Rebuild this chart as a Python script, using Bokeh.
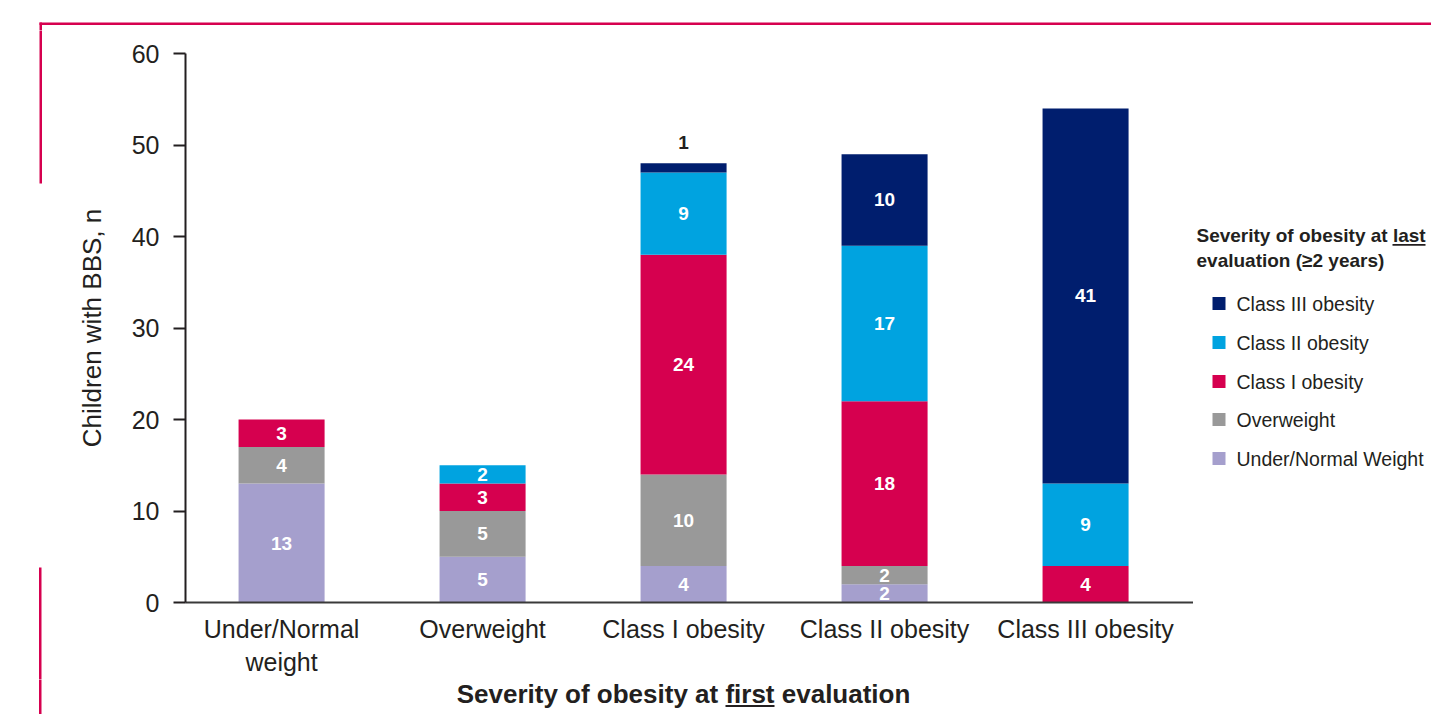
from bokeh.plotting import figure
from bokeh.layouts import column, row
from bokeh.models import ColumnDataSource, Range1d, FixedTicker
from bokeh.core.properties import value
from bokeh.embed import file_html
from bokeh.resources import INLINE

# ---------------- data ----------------
categories = ["Under/Normal\nweight", "Overweight", "Class I obesity",
              "Class II obesity", "Class III obesity"]
groups = ["Under/Normal Weight", "Overweight", "Class I obesity",
          "Class II obesity", "Class III obesity"]
under_normal = [13, 5, 4, 2, 0]
overweight = [4, 5, 10, 2, 0]
class_i = [3, 3, 24, 18, 4]
class_ii = [0, 2, 9, 17, 9]
class_iii = [0, 0, 1, 10, 41]
colors = ["#a59fcd", "#999999", "#d6004f", "#00a3e0", "#001e6e"]
y_ticks = [0, 10, 20, 30, 40, 50, 60]
x_title = "Severity of obesity at first evaluation"
legend_title = ["Severity of obesity at last", "evaluation (\u22652 years)"]

series = [under_normal, overweight, class_i, class_ii, class_iii]
keys = ["g0", "g1", "g2", "g3", "g4"]

FONT = "Liberation Sans"
TXT = "#231f20"
PINK = "#d6004f"

# page geometry (canvas pixels)
W, H = 1431, 714
TOP_H = 30            # top strip
BOT_Y = 679           # start of bottom strip
LEFT_W = 45           # left strip
FL, FR, FT, FB = 185, 1193, 53, 602   # main frame
MAIN_H = BOT_Y - TOP_H


def blank(x0, x1, y0, y1):
    f = figure(width=x1 - x0, height=y1 - y0, x_range=Range1d(x0, x1),
               y_range=Range1d(y1, y0), output_backend="svg", toolbar_location=None,
               x_axis_location=None, y_axis_location=None, min_border=0,
               frame_align=False)
    f.outline_line_color = None
    f.grid.visible = False
    f.background_fill_color = "white"
    f.border_fill_color = "white"
    return f


# ---------------- main chart ----------------
p = figure(width=FR - LEFT_W, height=MAIN_H, x_range=Range1d(-0.478, 4.537),
           y_range=Range1d(0, 60), output_backend="svg", toolbar_location=None,
           min_border_left=FL - LEFT_W, min_border_right=0,
           min_border_top=FT - TOP_H, min_border_bottom=BOT_Y - FB,
           frame_align=False)
p.outline_line_color = None
p.xgrid.visible = False
p.ygrid.visible = False
p.background_fill_color = "white"
p.border_fill_color = "white"

xs = list(range(len(categories)))
data = {"x": xs}
for k, s in zip(keys, series):
    data[k] = s
src = ColumnDataSource(data)
p.vbar_stack(keys, x="x", width=0.428, fill_color=colors, line_color=None, source=src)

# value labels
lx, ly, lt, lc = [], [], [], []
for i in xs:
    base = 0
    total = sum(s[i] for s in series)
    for s in series:
        v = s[i]
        if v > 0:
            lx.append(i)
            lt.append(str(v))
            if v < 2:
                ly.append(total + 2.3)
                lc.append(TXT)
            else:
                ly.append(base + v / 2)
                lc.append("white")
        base += v
p.text(x=lx, y=ly, text=lt, text_color=lc, text_font=value(FONT),
       text_font_style="bold", text_font_size="19px", text_align="center",
       text_baseline="middle")

xa = p.xaxis[0]
xa.ticker = FixedTicker(ticks=xs)
xa.major_label_overrides = {i: c for i, c in enumerate(categories)}
xa.major_tick_line_color = None
xa.minor_tick_line_color = None
xa.axis_line_color = "#3a3a3a"
xa.axis_line_width = 2
xa.major_label_text_font = FONT
xa.major_label_text_font_size = "25px"
xa.major_label_text_color = TXT
xa.major_label_standoff = 6

ya = p.yaxis[0]
ya.ticker = FixedTicker(ticks=y_ticks)
ya.minor_tick_line_color = None
ya.major_tick_in = 0
ya.major_tick_out = 12
ya.major_tick_line_width = 2
ya.major_tick_line_color = TXT
ya.axis_line_color = TXT
ya.axis_line_width = 2
ya.major_label_text_font = FONT
ya.major_label_text_font_size = "25px"
ya.major_label_text_color = TXT
ya.major_label_standoff = 14
ya.axis_label = "Children with BBS, n"
ya.axis_label_text_font = FONT
ya.axis_label_text_font_size = "26px"
ya.axis_label_text_font_style = "normal"
ya.axis_label_text_color = TXT
ya.axis_label_standoff = 22

# ---------------- top strip (slide frame) ----------------
top = blank(0, W, 0, TOP_H)
top.quad(left=[39, 39], right=[W + 5, 41.5], top=[22, 22], bottom=[24.5, TOP_H + 5],
         fill_color=PINK, line_color=None)

# ---------------- left strip ----------------
left = blank(0, LEFT_W, TOP_H, BOT_Y)
left.quad(left=[39, 38.5], right=[41.5, 41], top=[TOP_H - 5, 567], bottom=[183, BOT_Y + 5],
          fill_color=PINK, line_color=None)

# ---------------- legend strip ----------------
leg = blank(FR, W, TOP_H, BOT_Y)
leg.text(x=[1196, 1196], y=[235, 260], text=legend_title, text_font=value(FONT),
         text_font_style="bold", text_font_size="19px", text_color=TXT,
         text_baseline="middle", text_align="left")
leg.quad(left=[1392], right=[1425], top=[243.5], bottom=[245.2], fill_color=TXT,
         line_color=None)
rows_y = [303, 342, 381, 419, 458]
leg.quad(left=[1212] * 5, right=[1225] * 5, top=[y - 6.5 for y in rows_y],
         bottom=[y + 6.5 for y in rows_y], fill_color=colors[::-1], line_color=None)
leg.text(x=[1236] * 5, y=rows_y, text=groups[::-1], text_font=value(FONT),
         text_font_size="19.5px", text_color=TXT, text_baseline="middle",
         text_align="left")

# ---------------- bottom strip (x-axis title) ----------------
bot = blank(0, W, BOT_Y, H)
bot.text(x=[683], y=[693], text=[x_title], text_font=value(FONT),
         text_font_style="bold", text_font_size="26px", text_color=TXT,
         text_baseline="middle", text_align="center")
bot.quad(left=[725], right=[774], top=[704.5], bottom=[706.5], fill_color=TXT,
         line_color=None)
bot.quad(left=[38.5], right=[41], top=[BOT_Y - 5], bottom=[H + 5], fill_color=PINK,
         line_color=None)

layout = column(top, row(left, p, leg, spacing=0), bot, spacing=0)
open("out.html", "w").write(file_html(layout, INLINE))
